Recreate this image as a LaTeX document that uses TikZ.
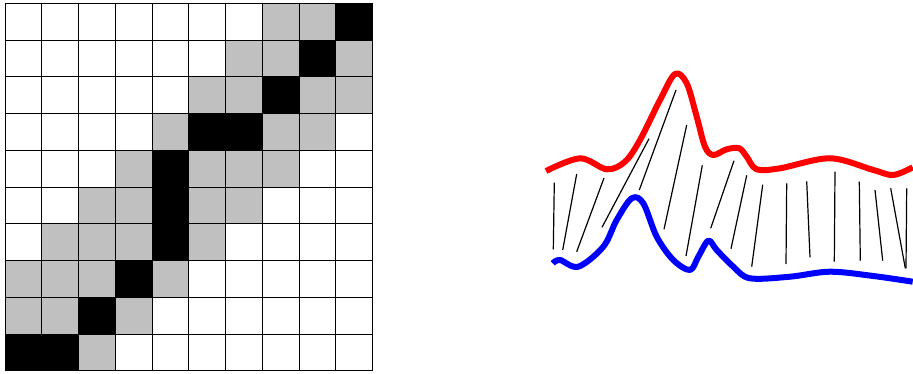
\documentclass[tikz,border=0pt]{standalone}
\begin{document}
\begin{tikzpicture}[x=1pt,y=-1pt,
  gridline/.style={draw=black,line width=0.9pt},
  warpline/.style={draw=black,line width=1.2pt},
  redcurve/.style={draw=red,line width=6pt,line join=round},
  bluecurve/.style={draw=blue,line width=6pt,line join=round}]
\definecolor{lgray}{RGB}{192,192,192}
\useasboundingbox (0,0) rectangle (913,374);
% grid cells
\def\cs{36.75}
\def\gx{5}
\def\gy{3.3}
\newcommand{\gcell}[3]{\fill[#3] ({\gx+#1*\cs},{\gy+#2*\cs}) rectangle ({\gx+(#1+1)*\cs},{\gy+(#2+1)*\cs});}
% row 0
\gcell{7}{0}{lgray}\gcell{8}{0}{lgray}\gcell{9}{0}{black}
% row 1
\gcell{6}{1}{lgray}\gcell{7}{1}{lgray}\gcell{8}{1}{black}\gcell{9}{1}{lgray}
% row 2
\gcell{5}{2}{lgray}\gcell{6}{2}{lgray}\gcell{7}{2}{black}\gcell{8}{2}{lgray}\gcell{9}{2}{lgray}
% row 3
\gcell{4}{3}{lgray}\gcell{5}{3}{black}\gcell{6}{3}{black}\gcell{7}{3}{lgray}\gcell{8}{3}{lgray}
% row 4
\gcell{3}{4}{lgray}\gcell{4}{4}{black}\gcell{5}{4}{lgray}\gcell{6}{4}{lgray}\gcell{7}{4}{lgray}
% row 5
\gcell{2}{5}{lgray}\gcell{3}{5}{lgray}\gcell{4}{5}{black}\gcell{5}{5}{lgray}\gcell{6}{5}{lgray}
% row 6
\gcell{1}{6}{lgray}\gcell{2}{6}{lgray}\gcell{3}{6}{lgray}\gcell{4}{6}{black}\gcell{5}{6}{lgray}
% row 7
\gcell{0}{7}{lgray}\gcell{1}{7}{lgray}\gcell{2}{7}{lgray}\gcell{3}{7}{black}\gcell{4}{7}{lgray}
% row 8
\gcell{0}{8}{lgray}\gcell{1}{8}{lgray}\gcell{2}{8}{black}\gcell{3}{8}{lgray}
% row 9
\gcell{0}{9}{black}\gcell{1}{9}{black}\gcell{2}{9}{lgray}
% grid lines
\foreach \i in {0,...,10}{
  \draw[gridline] ({\gx+\i*\cs},\gy) -- ({\gx+\i*\cs},{\gy+10*\cs});
  \draw[gridline] (\gx,{\gy+\i*\cs}) -- ({\gx+10*\cs},{\gy+\i*\cs});
}
% warping lines
\draw[warpline] (554.3,182.7) -- (553.3,249.3);
\draw[warpline] (576.7,174) -- (562.7,250);
\draw[warpline] (604,178) -- (576.7,251.7);
\draw[warpline] (649,138.7) -- (602,227.3);
\draw[warpline] (676,90) -- (639.3,190);
\draw[warpline] (686.7,125) -- (664,229.3);
\draw[warpline] (702.3,165.3) -- (686,256);
\draw[warpline] (734,160.7) -- (710.7,228.3);
\draw[warpline] (746.7,175.3) -- (731,248.7);
\draw[warpline] (762.7,184.7) -- (751.7,266.7);
\draw[warpline] (786.7,183.3) -- (786,264);
\draw[warpline] (806.7,181.3) -- (810,257.3);
\draw[warpline] (835,171.7) -- (834.3,261.7);
\draw[warpline] (859.3,181.7) -- (860.3,260.7);
\draw[warpline] (875,190) -- (882.7,260.7);
\draw[warpline] (890.7,188.3) -- (905.3,268.3);
\draw[warpline] (906.7,188.3) -- (906,268.3);
% red curve
\draw[redcurve] plot[smooth,tension=0.55] coordinates {
(546,171) (580,158.3) (606.7,169.3) (625,161.7) (640,140) (660,100) (675,74)
(686.7,83.3) (696.7,116.7) (705,146.7) (713.3,155) (726.7,149.3) (739.3,148.3)
(746.7,156.7) (756.7,169.3) (780,168.3) (830,158.3) (873.3,170) (893.3,175) (912.7,167.3)};
% blue curve
\draw[bluecurve] plot[smooth,tension=0.55] coordinates {
(552.7,263.3) (560,260) (578.3,266.7) (603.3,246.7) (616.7,220) (631.7,198.3)
(643.3,203.3) (656.7,236.7) (673.3,260) (690,270) (698.3,256.7) (708.3,240.7)
(716.7,250) (733.3,266.7) (750,278.3) (790,276.7) (830,271.7) (873.3,276) (912.7,281.7)};
\end{tikzpicture}
\end{document}
